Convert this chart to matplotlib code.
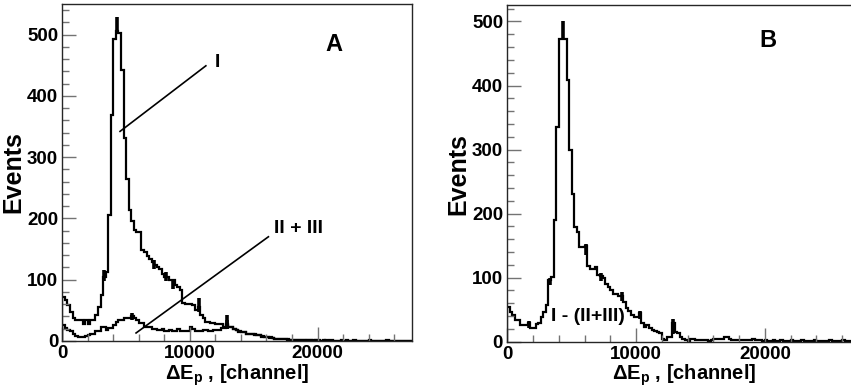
import numpy as np
import matplotlib
matplotlib.use("Agg")
import matplotlib.pyplot as plt
from matplotlib.ticker import MultipleLocator

plt.rcParams["font.family"] = ["Liberation Sans", "DejaVu Sans"]
plt.rcParams["font.weight"] = "bold"
plt.rcParams["axes.labelweight"] = "bold"
plt.rcParams["mathtext.fontset"] = "custom"
plt.rcParams["mathtext.rm"] = "Liberation Sans:bold"
plt.rcParams["mathtext.it"] = "Liberation Sans:bold"
plt.rcParams["mathtext.bf"] = "Liberation Sans:bold"
plt.rcParams["mathtext.default"] = "rm"

# гистограммы: бины по 200 каналов, 0..27400
bin_width = 200
x_max = 27400

# панель A, кривая I
counts_I = [
    72, 67, 59, 48, 38, 34, 34, 34, 28, 34,
    27, 34, 34, 42, 56, 75, 104, 113, 205, 369,
    492, 505, 503, 442, 331, 265, 213, 195, 181, 178,
    178, 148, 145, 138, 134, 129, 124, 120, 118, 110,
    104, 104, 99, 99, 91, 88, 83, 62, 60, 60,
    60, 58, 50, 55, 42, 38, 31, 31, 30, 29,
    28, 28, 27, 23, 26, 23, 22, 20, 18, 15,
    15, 14, 12, 12, 11, 11, 10, 9, 7, 7,
    6, 6, 5, 4, 4, 4, 3, 3, 3, 2,
    2, 2, 2, 1, 1, 1, 2, 1, 1, 1,
    1, 0, 1, 0, 0, 1, 0, 0, 0, 1,
    0, 0, 0, 0, 1, 0, 0, 0, 0, 0,
    1, 0, 0, 0, 0, 0, 0, 1, 0, 0,
    0, 0, 0, 0, 0, 0, 0,
]

# панель A, кривая II + III
counts_II_III = [
    26, 21, 18, 16, 12, 8, 7, 7, 7, 8,
    9, 12, 12, 16, 16, 22, 22, 18, 21, 21,
    26, 31, 34, 34, 37, 37, 37, 41, 38, 34,
    29, 29, 23, 22, 22, 19, 19, 18, 18, 19,
    17, 17, 18, 17, 17, 19, 16, 16, 16, 16,
    22, 19, 16, 16, 16, 18, 18, 16, 16, 18,
    18, 18, 21, 21, 28, 23, 23, 20, 18, 16,
    15, 14, 12, 12, 11, 10, 10, 9, 8, 7,
    6, 5, 5, 4, 4, 3, 3, 3, 2, 2,
    2, 1, 1, 1, 1, 0, 1, 1, 0, 1,
    0, 0, 0, 1, 0, 0, 0, 0, 0, 0,
    0, 1, 0, 0, 0, 0, 0, 0, 0, 0,
    0, 0, 0, 0, 0, 0, 0, 0, 0, 0,
    0, 0, 0, 0, 0, 0, 0,
]

# панель B, I - (II+III)
counts_B = [
    54, 47, 42, 34, 34, 26, 26, 26, 29, 21,
    21, 27, 30, 39, 47, 57, 96, 101, 190, 336,
    473, 473, 473, 409, 299, 231, 179, 172, 148, 148,
    150, 119, 114, 114, 116, 104, 102, 100, 90, 86,
    81, 75, 75, 72, 72, 62, 52, 48, 42, 39,
    39, 45, 30, 23, 26, 21, 19, 17, 15, 13,
    5, 3, 8, 8, 29, 15, 13, 7, 5, 2,
    0, 4, 4, 2, 3, 3, 3, 2, 1, 3,
    4, 4, 5, 5, 8, 8, 4, 3, 3, 2,
    2, 2, 2, 2, 2, 4, 3, 2, 2, 1,
    2, 1, 1, 2, 1, 1, 2, 1, 1, 1,
    2, 1, 1, 1, 2, 1, 1, 1, 1, 2,
    1, 1, 1, 1, 1, 2, 1, 1, 1, 1,
    2, 1, 1, 1, 1, 1, 1,
]

# толстые отметки ошибок (канал, низ, верх)
err_I = [(4300, 505, 528), (3300, 98, 116), (7200, 117, 132), (8100, 98, 112),
         (8700, 84, 98), (10700, 48, 70), (12900, 20, 42)]
err_II_III = [(5500, 35, 45), (12900, 20, 34)]
err_B = [(4300, 473, 500), (3300, 88, 100), (6100, 135, 152), (7300, 95, 108),
         (8900, 64, 78), (10300, 36, 48), (12900, 12, 36), (1700, 22, 32)]

edges = np.arange(0, x_max + bin_width, bin_width)
TICK_COLOR = "0.45"


def style_axes(ax, ymax):
    ax.set_xlim(0, x_max)
    ax.set_ylim(0, ymax)
    ax.xaxis.set_major_locator(MultipleLocator(10000))
    ax.xaxis.set_minor_locator(MultipleLocator(2000))
    ax.yaxis.set_major_locator(MultipleLocator(100))
    ax.yaxis.set_minor_locator(MultipleLocator(20))
    ax.tick_params(which="both", direction="in", top=False, right=False,
                   color=TICK_COLOR, labelsize=13.5, width=1.0)
    ax.tick_params(which="major", length=10, pad=3)
    ax.tick_params(which="minor", length=5)
    for lab in ax.get_xticklabels() + ax.get_yticklabels():
        lab.set_fontweight("bold")
    for sp in ax.spines.values():
        sp.set_linewidth(1.0)
        sp.set_color("0.15")
    ax.set_xlabel(r"$\Delta$E$_{p}$ , [channel]", fontsize=14.5,
                  fontweight="bold", labelpad=0)
    ax.set_ylabel("Events", fontsize=18, fontweight="bold", labelpad=1)


def draw_errs(ax, marks):
    for ch, lo, hi in marks:
        ax.vlines(ch, lo, hi, color="black", lw=2.6)


fig = plt.figure(figsize=(8.51, 3.91), dpi=100)

# панель A
ax1 = fig.add_axes([0.0732, 0.128, 0.4109, 0.862])
ax1.stairs(counts_I, edges, color="black", lw=1.6)
ax1.stairs(counts_II_III, edges, color="black", lw=1.6)
draw_errs(ax1, err_I)
draw_errs(ax1, err_II_III)
style_axes(ax1, 550)
ax1.plot([4525, 11250], [342, 449], color="black", lw=1.2)
ax1.plot([5780, 16150], [13, 170], color="black", lw=1.2)
ax1.text(12190, 454, "I", fontsize=14, fontweight="bold", ha="center", va="center")
ax1.text(18500, 184, "II + III", fontsize=14, fontweight="bold", ha="center", va="center")
ax1.text(21250, 483, "A", fontsize=17, fontweight="bold", ha="center", va="center")

# панель B (правый край обрезан рамкой рисунка)
ax2 = fig.add_axes([0.5961, 0.126, 0.4147, 0.860])
ax2.stairs(counts_B, edges, color="black", lw=1.6)
draw_errs(ax2, err_B)
style_axes(ax2, 525)
ax2.text(6290, 39, "I - (II+III)", fontsize=14, fontweight="bold", ha="center", va="center")
ax2.text(20260, 470, "B", fontsize=17, fontweight="bold", ha="center", va="center")

fig.savefig("out.png", dpi=100)
